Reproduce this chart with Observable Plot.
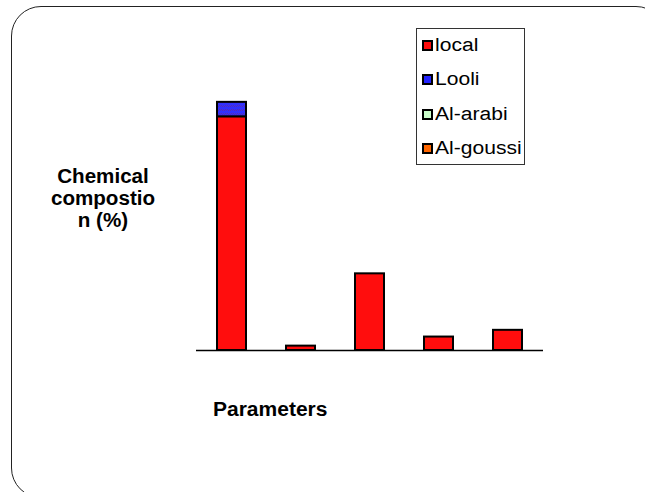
<!DOCTYPE html>
<html>
<head>
<meta charset="utf-8">
<script src="https://cdn.jsdelivr.net/npm/d3@7"></script>
<script src="https://cdn.jsdelivr.net/npm/@observablehq/plot@0.6"></script>
<style>
  html, body { margin: 0; padding: 0; background: #fff; }
  #wrap { position: relative; width: 645px; height: 492px; overflow: hidden; font-family: Arial, "Liberation Sans", sans-serif; }
  #frame { position: absolute; left: 11px; top: 6px; width: 655px; height: 492px; border: 1.5px solid #222; border-radius: 30px; box-sizing: border-box; }
  #chart { position: absolute; left: 0; top: 0; }
  #ylab { position: absolute; left: 43px; top: 165px; width: 120px; text-align: center; font-weight: bold; font-size: 20px; line-height: 22px; color: #000; transform: scaleX(1.03); }
  #xlab { position: absolute; left: 213px; top: 398px; font-weight: bold; font-size: 20px; line-height: 22px; color: #000; transform: scaleX(1.05); transform-origin: left center; }
  #legend { position: absolute; left: 416px; top: 28px; width: 109px; height: 137px; border: 1px solid #333; box-sizing: border-box; background: #fff; }
  .item { position: absolute; left: 5px; height: 20px; display: flex; align-items: center; color: #000; white-space: nowrap; }
  .sw { width: 7px; height: 7px; border: 2px solid #000; margin-right: 2px; }
  .lt { font-size: 18px; display: inline-block; transform: scaleX(1.17); transform-origin: left center; }
</style>
</head>
<body>
<div id="wrap">
  <div id="frame"></div>
  <div id="chart"></div>
  <div id="ylab">Chemical<br>compostio<br>n (%)</div>
  <div id="xlab">Parameters</div>
  <div id="legend"></div>
</div>
<script>
// Categories (no tick labels are shown in the reference)
const categories = ["P1", "P2", "P3", "P4", "P5"];
const seriesNames = ["local", "Looli", "Al-arabi", "Al-goussi"];
// Values (stacked)
const local    = [69.5, 1.3, 22.8, 4.0, 6.0];
const looli    = [4.3, 0, 0, 0, 0];
const alArabi  = [0, 0, 0, 0, 0];
const alGoussi = [0, 0, 0, 0, 0];
const seriesColors = ["#ff0d0d", "url(#looliPattern)", "#ccffcc", "#ff6600"];
const legendColors = ["#ff0d0d", "#2323ff", "#ccffcc", "#ff6600"];

const seriesValues = [local, looli, alArabi, alGoussi];
const data = [];
seriesNames.forEach((s, si) => {
  categories.forEach((c, ci) => data.push({category: c, series: s, value: seriesValues[si][ci]}));
});

const plot = Plot.plot({
  width: 645,
  height: 492,
  marginLeft: 196,
  marginRight: 102,
  marginTop: 81,
  marginBottom: 142,
  x: {domain: categories, paddingInner: 0.58, paddingOuter: 0.29, axis: null},
  y: {domain: [0, 80], axis: null},
  color: {domain: seriesNames, range: seriesColors},
  marks: [
    Plot.barY(data.filter(d => d.value > 0), {
      x: "category", y: "value", fill: "series", order: seriesNames,
      stroke: "#000", strokeWidth: 2, inset: 0
    }),
    Plot.ruleY([0], {stroke: "#000", strokeWidth: 1.6})
  ]
});

// pattern for the Looli series
const svg = d3.select(plot);
const defs = svg.insert("defs", ":first-child");
const pat = defs.append("pattern")
  .attr("id", "looliPattern").attr("patternUnits", "userSpaceOnUse")
  .attr("width", 6).attr("height", 4);
pat.append("rect").attr("width", 6).attr("height", 4).attr("fill", "#3030ff");
pat.append("path").attr("d", "M0,3 Q1.5,0.5 3,3 M3,1 Q4.5,3.5 6,1")
  .attr("fill", "none").attr("stroke", "#5a2ab0").attr("stroke-width", 1);

document.getElementById("chart").appendChild(plot);

const legend = document.getElementById("legend");
seriesNames.forEach((s, i) => {
  const it = document.createElement("div");
  it.className = "item";
  it.style.top = (6 + i * 34.5) + "px";
  const sw = document.createElement("span");
  sw.className = "sw";
  sw.style.background = legendColors[i];
  it.appendChild(sw);
  const t = document.createElement("span");
  t.className = "lt";
  t.textContent = s;
  it.appendChild(t);
  legend.appendChild(it);
});
</script>
</body>
</html>
